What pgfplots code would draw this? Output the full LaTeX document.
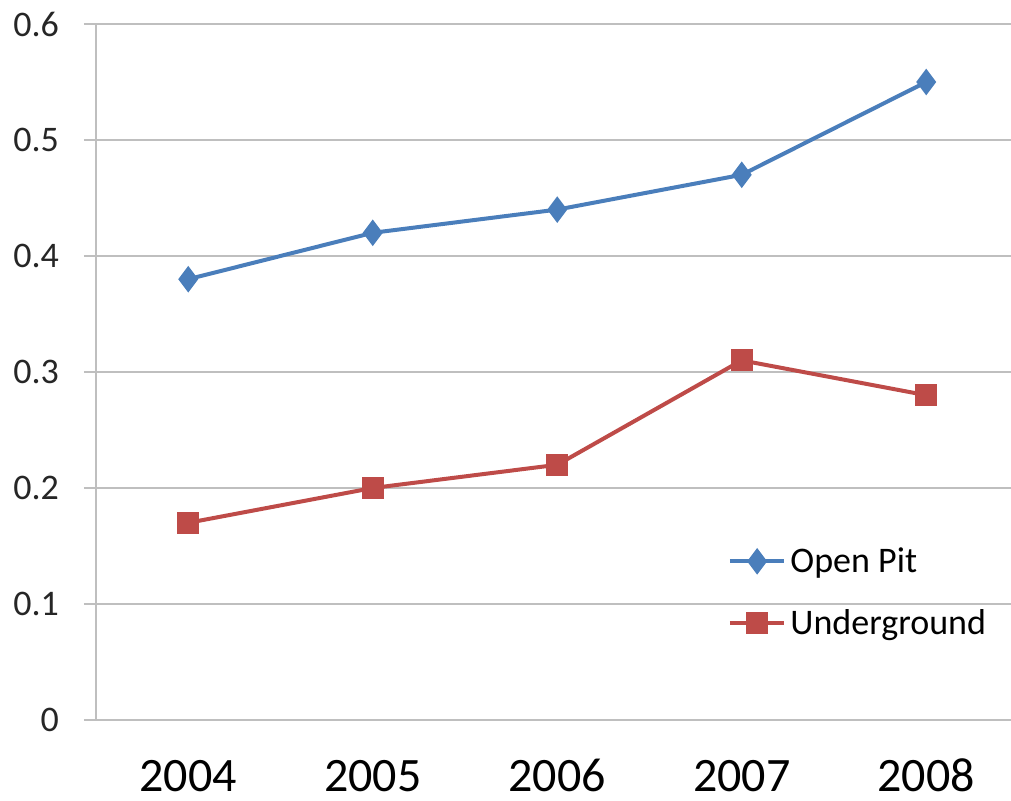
\documentclass[border=0pt]{standalone}
\usepackage{pgfplots}
\pgfplotsset{compat=1.18}
\usepackage{fontspec}
\setmainfont{Carlito}
\definecolor{opblue}{HTML}{4A7EBB}
\definecolor{ugred}{HTML}{BE4B48}
\definecolor{gridgray}{HTML}{BFBFBF}
\begin{document}
\begin{tikzpicture}
  % page = 1011 x 801 px at 0.5pt per px; axis box from (96,720) px
  \path[use as bounding box] (-48pt,-40.5pt) rectangle (457.5pt,360pt);
  \begin{axis}[
    at={(0pt,0pt)}, anchor=south west,
    scale only axis,
    width=461.25pt, height=348pt,
    xmin=-0.5, xmax=4.5,
    ymin=0, ymax=0.6,
    xtick={0,1,2,3,4},
    xticklabels={2004,2005,2006,2007,2008},
    ytick={0,0.1,...,0.6},
    yticklabels={0,0.1,0.2,0.3,0.4,0.5,0.6},
    axis x line*=bottom, axis y line*=left,
    axis line style={gridgray, line width=1pt, -},
    x axis line style={draw=none},
    ymajorgrids=true,
    grid style={gridgray, line width=1pt},
    major x tick style={draw=none},
    major y tick style={gridgray, line width=1pt},
    tick align=outside,
    major tick length=6pt,
    /pgf/number format/assume math mode=true,
    yticklabel style={font=\fontsize{18}{20}\selectfont, color=black!85, xshift=-9pt},
    xticklabel style={font=\fontsize{24}{28}\selectfont, color=black,
      anchor=base, inner sep=0.5pt, text height=16pt, text depth=0pt, yshift=-30pt},
    legend style={draw=none, fill=none, at={(0.678,0.26)}, anchor=north west,
      font=\fontsize{18}{20}\selectfont, row sep=13pt,
      /tikz/every even column/.append style={column sep=2pt}},
    legend cell align=left,
    legend image code/.code={
      \draw[#1, mark repeat=2, mark phase=2] plot coordinates {(0cm,0cm) (0.48cm,0cm) (0.96cm,0cm)};
    },
  ]
    \addplot[opblue, line width=2pt, mark=diamond*, mark size=5pt, mark options={solid, fill=opblue}]
      coordinates {(0,0.38) (1,0.42) (2,0.44) (3,0.47) (4,0.55)};
    \addplot[ugred, line width=2pt, mark=square*, mark size=4.5pt, mark options={solid, fill=ugred}]
      coordinates {(0,0.17) (1,0.20) (2,0.22) (3,0.31) (4,0.28)};
    \legend{Open Pit, Underground}
  \end{axis}
\end{tikzpicture}
\end{document}
